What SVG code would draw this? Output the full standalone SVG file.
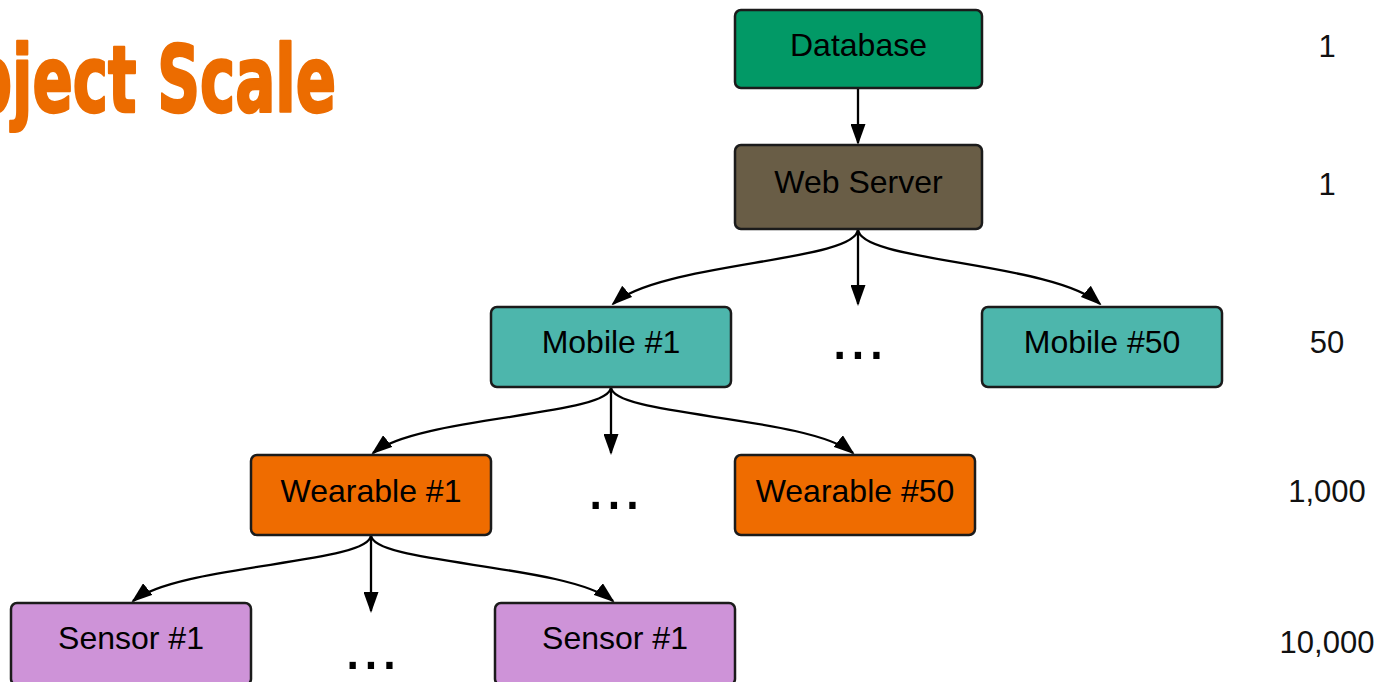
<svg xmlns="http://www.w3.org/2000/svg" width="1382" height="682" viewBox="0 0 1382 682">
  <style>
    .box { stroke: #1b1b1b; stroke-width: 2.5; }
    .lbl { font-family: "Liberation Sans", Arial, sans-serif; font-size: 32px; fill: #000; text-anchor: middle; }
    .num { font-family: "Liberation Sans", Arial, sans-serif; font-size: 31px; fill: #111; text-anchor: middle; }
    .dots { font-family: "Liberation Sans", Arial, sans-serif; font-size: 66px; fill: #000; text-anchor: middle; }
    .edge { fill: none; stroke: #000; stroke-width: 2.3; marker-end: url(#arrow); }
    .title { font-family: "DejaVu Sans Condensed", "DejaVu Sans", sans-serif; font-stretch: condensed; font-weight: bold; font-size: 92px; fill: #ec6c00; stroke: #ec6c00; stroke-width: 2.5; stroke-linejoin: round; }
  </style>
  <defs>
    <marker id="arrow" markerUnits="userSpaceOnUse" markerWidth="21" markerHeight="15" refX="19" refY="7.5" orient="auto">
      <path d="M0,0 L21,7.5 L0,15 z" fill="#000"/>
    </marker>
  </defs>

  <rect width="1382" height="682" fill="#fff"/>

  <text class="title" x="-81" y="112" textLength="417" lengthAdjust="spacingAndGlyphs">Object Scale</text>

  <g id="connectors">
    <path class="edge" d="M858,88 L858,143"/>
    <path class="edge" d="M858,229 L858,304"/>
    <path class="edge" d="M858,229 C858,262 660,262 613,304"/>
    <path class="edge" d="M858,229 C858,262 1053,262 1100,304"/>
    <path class="edge" d="M611,387 L611,453"/>
    <path class="edge" d="M611,387 C611,416 419,416 373,453"/>
    <path class="edge" d="M611,387 C611,416 807,416 853,453"/>
    <path class="edge" d="M371,535 L371,611"/>
    <path class="edge" d="M371,535 C371,564 179,564 133,601"/>
    <path class="edge" d="M371,535 C371,564 567,564 613,601"/>
  </g>

  <g id="database">
    <rect class="box" x="735" y="10" width="247" height="78" rx="6" fill="#029966"/>
    <text class="lbl" x="858.5" y="56">Database</text>
  </g>
  <g id="web-server">
    <rect class="box" x="735" y="145" width="247" height="84" rx="6" fill="#695d46"/>
    <text class="lbl" x="858.5" y="193">Web Server</text>
  </g>
  <g id="mobile-1">
    <rect class="box" x="491" y="307" width="240" height="80" rx="6" fill="#4db6ac"/>
    <text class="lbl" x="611" y="353">Mobile #1</text>
  </g>
  <g id="mobile-50">
    <rect class="box" x="982" y="307" width="240" height="80" rx="6" fill="#4db6ac"/>
    <text class="lbl" x="1102" y="353">Mobile #50</text>
  </g>
  <g id="wearable-1">
    <rect class="box" x="251" y="455" width="240" height="80" rx="6" fill="#ef6c00"/>
    <text class="lbl" x="371" y="502">Wearable #1</text>
  </g>
  <g id="wearable-50">
    <rect class="box" x="735" y="455" width="240" height="80" rx="6" fill="#ef6c00"/>
    <text class="lbl" x="855" y="502">Wearable #50</text>
  </g>
  <g id="sensor-1a">
    <rect class="box" x="11" y="603" width="240" height="82" rx="6" fill="#ce93d8"/>
    <text class="lbl" x="131" y="649">Sensor #1</text>
  </g>
  <g id="sensor-1b">
    <rect class="box" x="495" y="603" width="240" height="82" rx="6" fill="#ce93d8"/>
    <text class="lbl" x="615" y="649">Sensor #1</text>
  </g>

  <g id="ellipses">
    <text class="dots" x="858" y="359">...</text>
    <text class="dots" x="614" y="509">...</text>
    <text class="dots" x="371" y="669">...</text>
  </g>

  <g id="counts">
    <text class="num" x="1327" y="57">1</text>
    <text class="num" x="1327" y="195">1</text>
    <text class="num" x="1327" y="353">50</text>
    <text class="num" x="1327" y="502">1,000</text>
    <text class="num" x="1327" y="653">10,000</text>
  </g>
</svg>
